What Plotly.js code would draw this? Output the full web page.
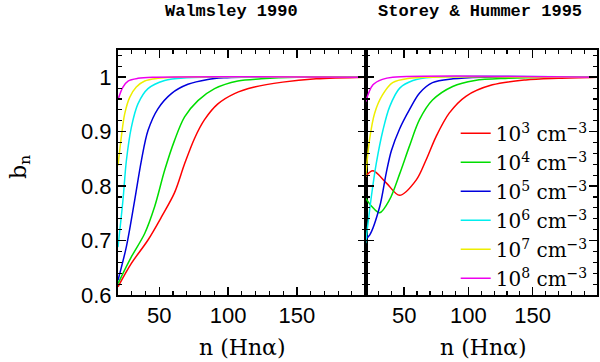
<!DOCTYPE html>
<html>
<head>
<meta charset="utf-8">
<script src="https://cdn.plot.ly/plotly-3.0.1.min.js"></script>
<style>
  html, body { margin: 0; padding: 0; background: #fff; }
  #chart { width: 600px; height: 362px; }
</style>
</head>
<body>
<div id="chart"></div>
<script>
// Density labels and line colours (one per curve)
const densityLabels = ['10<sup>3</sup> cm<sup>−3</sup>', '10<sup>4</sup> cm<sup>−3</sup>', '10<sup>5</sup> cm<sup>−3</sup>',
                       '10<sup>6</sup> cm<sup>−3</sup>', '10<sup>7</sup> cm<sup>−3</sup>', '10<sup>8</sup> cm<sup>−3</sup>'];
const lineColors = ['#ff0000', '#00dd00', '#0000dd', '#00eeee', '#eeee00', '#ee00ee'];

// Walmsley 1990 (left panel)
const wN3 = [20, 29.7, 41.8, 51.5, 61.1, 68.4, 75.7, 82.9, 92.6, 104.7, 119.2, 139.7, 164, 200];
const wB3 = [0.615, 0.658, 0.701, 0.743, 0.788, 0.841, 0.888, 0.922, 0.951, 0.970, 0.982, 0.991, 0.997, 1.0];
const wN4 = [20, 29.7, 39.4, 46.6, 53.9, 61.1, 68.4, 78.1, 90.2, 107.1, 124, 150, 200];
const wB4 = [0.621, 0.670, 0.713, 0.762, 0.829, 0.884, 0.927, 0.957, 0.979, 0.993, 0.997, 1.0, 1.0];
const wN5 = [20, 26.1, 32.1, 37, 41.8, 49, 58.8, 70.8, 85.3, 97, 110, 200];
const wB5 = [0.627, 0.689, 0.774, 0.847, 0.902, 0.942, 0.970, 0.987, 0.996, 0.999, 1.0, 1.0];
const wN6 = [20, 23.6, 26.1, 29.7, 34.5, 41.8, 53.9, 70, 85, 200];
const wB6 = [0.688, 0.774, 0.847, 0.908, 0.951, 0.979, 0.994, 0.999, 1.0, 1.0];
const wN7 = [20, 22.4, 24.9, 28.5, 33.3, 39.4, 49, 60, 200];
const wB7 = [0.838, 0.890, 0.933, 0.963, 0.982, 0.993, 0.998, 1.0, 1.0];
const wN8 = [20, 23.6, 27.3, 34.5, 45, 200];
const wB8 = [0.959, 0.982, 0.993, 0.998, 1.0, 1.0];

// Storey & Hummer 1995 (right panel)
const sN3 = [20, 25.7, 36, 46.4, 59.3, 67, 74.8, 85, 98, 118.6, 144.6, 170, 200];
const sB3 = [0.818, 0.828, 0.806, 0.783, 0.811, 0.848, 0.891, 0.934, 0.965, 0.986, 0.995, 0.998, 1.0];
const sN4 = [20, 25, 30.9, 38.6, 46.4, 54, 61.9, 72, 87.7, 105, 131, 160, 200];
const sB4 = [0.778, 0.762, 0.751, 0.775, 0.822, 0.873, 0.922, 0.958, 0.983, 0.994, 0.998, 1.0, 1.0];
const sN5 = [20, 23.1, 30.9, 36, 40, 46.4, 54, 62, 72, 88, 110, 200];
const sB5 = [0.703, 0.71, 0.762, 0.824, 0.865, 0.905, 0.94, 0.971, 0.99, 0.997, 1.0, 1.0];
const sN6 = [20, 24.4, 28.3, 33.5, 38.7, 46.5, 56.8, 72, 200];
const sB6 = [0.695, 0.78, 0.842, 0.903, 0.946, 0.98, 0.994, 1.0, 1.0];
const sN7 = [20, 23, 27, 33, 41, 54, 70, 200];
const sB7 = [0.817, 0.885, 0.934, 0.967, 0.99, 0.998, 1.0, 1.0];
const sN8 = [20, 25.7, 33, 41, 200];
const sB8 = [0.955, 0.986, 0.996, 1.0, 1.0];

const leftSets = [[wN3, wB3], [wN4, wB4], [wN5, wB5], [wN6, wB6], [wN7, wB7], [wN8, wB8]];
const rightSets = [[sN3, sB3], [sN4, sB4], [sN5, sB5], [sN6, sB6], [sN7, sB7], [sN8, sB8]];

const traces = [];
leftSets.forEach((s, i) => {
    traces.push({
        x: s[0], y: s[1], xaxis: 'x', yaxis: 'y', mode: 'lines',
        line: { color: lineColors[i], width: 1.5, shape: 'spline', smoothing: 0.9 },
        showlegend: false, hoverinfo: 'skip'
    });
});
rightSets.forEach((s, i) => {
    traces.push({
        x: s[0], y: s[1], xaxis: 'x2', yaxis: 'y2', mode: 'lines',
        name: densityLabels[i],
        line: { color: lineColors[i], width: 1.5, shape: 'spline', smoothing: 0.9 },
        showlegend: true, hoverinfo: 'skip'
    });
});

const tickFont = { family: 'Liberation Sans, Arial, sans-serif', size: 22, color: '#000' };
const serif = 'DejaVu Serif, serif';
const mono = 'Liberation Mono, monospace';

function xAxis(domain, anchor) {
    return {
        domain: domain, anchor: anchor, range: [20, 200],
        tickvals: [50, 100, 150], ticks: 'inside', ticklen: 8, tickwidth: 1.5, tickcolor: '#000',
        minor: { dtick: 10, tick0: 0, ticks: 'inside', ticklen: 4, tickwidth: 1.2, tickcolor: '#000', showgrid: false },
        showline: true, linecolor: '#000', linewidth: 2, mirror: 'allticks',
        showgrid: false, zeroline: false, tickfont: tickFont
    };
}
function yAxis(anchor, labels) {
    return {
        anchor: anchor, domain: [0, 1], range: [0.6, 1.05],
        tickvals: [0.6, 0.7, 0.8, 0.9, 1.0], ticktext: ['0.6', '0.7', '0.8', '0.9', '1'],
        showticklabels: labels,
        ticks: 'inside', ticklen: 8, tickwidth: 1.5, tickcolor: '#000',
        minor: { dtick: 0.02, tick0: 0.6, ticks: 'inside', ticklen: 4, tickwidth: 1.2, tickcolor: '#000', showgrid: false },
        showline: true, linecolor: '#000', linewidth: 2, mirror: 'allticks',
        showgrid: false, zeroline: false, tickfont: tickFont
    };
}

function label(text, x, y, family, size, angle) {
    return {
        text: text, xref: 'paper', yref: 'paper', x: x, y: y,
        xanchor: 'center', yanchor: 'middle', textangle: angle || 0,
        showarrow: false, font: { family: family, size: size, color: '#000' }
    };
}

const layout = {
    width: 600, height: 362,
    margin: { l: 118, r: 3, t: 50, b: 67 },
    paper_bgcolor: '#fff', plot_bgcolor: '#fff',
    xaxis: xAxis([0, 0.517], 'y'),
    xaxis2: xAxis([0.517, 1], 'y2'),
    yaxis: yAxis('x', true),
    yaxis2: yAxis('x2', false),
    showlegend: true,
    legend: {
        x: 0.705, y: 0.74, xanchor: 'left', yanchor: 'top',
        bgcolor: 'rgba(0,0,0,0)', borderwidth: 0,
        font: { family: serif, size: 20, color: '#000' },
        itemwidth: 30
    },
    annotations: [
        label('<b>Walmsley 1990</b>', 0.236, 1.159, mono, 17),
        label('<b>Storey &amp; Hummer 1995</b>', 0.756, 1.159, mono, 17),
        label('n (Hnα)', 0.259, -0.216, serif, 22),
        label('n (Hnα)', 0.764, -0.216, serif, 22),
        label('b<sub>n</sub>', -0.205, 0.522, serif, 22, -90)
    ]
};

Plotly.newPlot('chart', traces, layout, { displayModeBar: false, staticPlot: true });
</script>
</body>
</html>
